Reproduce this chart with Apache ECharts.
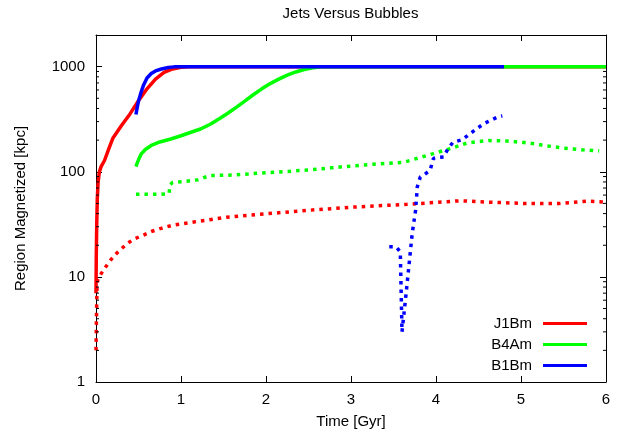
<!DOCTYPE html>
<html>
<head>
<meta charset="utf-8">
<script src="https://cdn.jsdelivr.net/npm/echarts@6/dist/echarts.min.js"></script>
<style>
html,body{margin:0;padding:0;background:#fff;}
#chart{width:623px;height:437px;}
</style>
</head>
<body>
<div id="chart"></div>
<script>
// ---- Data ----
const xTicks = [0, 1, 2, 3, 4, 5, 6];
const yTicks = [1, 10, 100, 1000];

const j1SolidTime = [0, 0.003, 0.008, 0.015, 0.025, 0.04, 0.06, 0.1, 0.15, 0.2, 0.3, 0.4, 0.5, 0.6, 0.7, 0.8, 0.9, 1.0, 1.1, 1.2, 1.5, 2, 3, 4, 5, 6];
const j1SolidRegion = [7, 15, 30, 55, 80, 100, 112, 128, 165, 210, 275, 355, 475, 615, 760, 880, 950, 985, 995, 1000, 1000, 1000, 1000, 1000, 1000, 1000];

const b4SolidTime = [0.47, 0.48, 0.5, 0.53, 0.58, 0.65, 0.75, 0.88, 1.0, 1.1, 1.23, 1.35, 1.45, 1.55, 1.65, 1.75, 1.85, 1.95, 2.05, 2.15, 2.25, 2.35, 2.45, 2.55, 2.65, 2.8, 3, 4, 5, 6];
const b4SolidRegion = [112, 118, 130, 147, 163, 178, 192, 205, 220, 235, 255, 285, 320, 360, 410, 470, 540, 615, 690, 760, 830, 890, 940, 975, 995, 1000, 1000, 1000, 1000, 1000];

const b1SolidTime = [0.47, 0.48, 0.5, 0.53, 0.56, 0.6, 0.65, 0.7, 0.77, 0.85, 0.92, 1.0, 1.5, 2, 3, 4, 4.8];
const b1SolidRegion = [350, 390, 470, 570, 670, 780, 860, 910, 950, 980, 995, 1000, 1000, 1000, 1000, 1000, 1000];

const j1DotTime = [0, 0.004, 0.008, 0.012, 0.02, 0.05, 0.1, 0.17, 0.25, 0.365, 0.45, 0.56, 0.65, 0.756, 0.9, 1.15, 1.54, 1.93, 2.5, 3.0, 3.66, 4.29, 4.6, 5.03, 5.46, 5.78, 6.0];
const j1DotRegion = [2, 3.5, 5.5, 8, 9.3, 10.4, 12, 14.4, 17, 20.7, 23, 25, 27, 28.8, 31, 33.3, 37, 39.4, 43, 46, 49, 53, 51.5, 50, 50, 52.5, 51.5];

const b4DotTime = [0.47, 0.6, 0.75, 0.86, 0.87, 0.9, 1.05, 1.2, 1.34, 1.62, 1.93, 2.2, 2.5, 2.87, 3.27, 3.62, 3.97, 4.17, 4.36, 4.48, 4.62, 4.84, 5.0, 5.15, 5.27, 5.5, 5.72, 5.92];
const b4DotRegion = [61, 61, 61, 62, 75, 79, 81, 84, 92, 93, 97, 100, 104, 111, 118, 123, 149, 166, 187, 193, 198, 196, 191, 185, 178, 168, 162, 158];

const b1DotTime = [3.45, 3.53, 3.58, 3.6, 3.64, 3.68, 3.72, 3.76, 3.78, 3.815, 3.87, 3.93, 3.97, 4.03, 4.09, 4.14, 4.2, 4.31, 4.4, 4.48, 4.56, 4.64, 4.72, 4.78];
const b1DotRegion = [19.3, 19.3, 17.3, 3.0, 6, 12.4, 25.8, 43, 72, 89, 95, 103, 134, 137, 138, 165, 191, 202, 230, 257, 285, 308, 330, 340];

const minorTickValues = [2,3,4,5,6,7,8,9,20,30,40,50,60,70,80,90,200,300,400,500,600,700,800,900];

const seriesNames = ['J1Bm', 'B4Am', 'B1Bm'];
const colors = ['#ff0000', '#00ff00', '#0000ff'];

// ---- Build ----
const zip = (t, v) => t.map((x, i) => [x, v[i]]);
const FONT = '"Liberation Sans", Arial, Helvetica, sans-serif';

const solid = (name, color, t, v) => ({
  name, type: 'line', data: zip(t, v), showSymbol: false, symbol: 'none',
  lineStyle: { color, width: 3.5 }, itemStyle: { color }, animation: false, z: 3
});
const dotted = (name, color, t, v) => ({
  name: name + ' (dotted)', type: 'line', data: zip(t, v), showSymbol: false, symbol: 'none',
  lineStyle: { color, width: 3.5, type: [3.5, 5], cap: 'butt' }, itemStyle: { color }, animation: false, z: 3
});

const chart = echarts.init(document.getElementById('chart'));
const axisLine = { show: true, onZero: false, lineStyle: { color: '#000', width: 1 } };
const tick = { show: true, inside: true, length: 6, lineStyle: { color: '#000', width: 1 } };
const labelStyle = { color: '#000', fontSize: 15, fontFamily: FONT };

chart.setOption({
  animation: false,
  backgroundColor: '#fff',
  graphic: [{
    type: 'text', x: 350.5, y: 6,
    style: { text: 'Jets Versus Bubbles', align: 'center', verticalAlign: 'top', fill: '#000', font: '15px ' + FONT }
  }],
  grid: { left: 96, right: 17, top: 35, bottom: 55, containLabel: false },
  legend: {
    data: seriesNames, orient: 'vertical', right: 36, top: 316, align: 'right',
    itemWidth: 44, itemHeight: 3, itemGap: 6, icon: 'rect', padding: 0,
    textStyle: { color: '#000', fontSize: 15, fontFamily: FONT, padding: [0, 6, 0, 0], lineHeight: 15 }
  },
  xAxis: [{
    type: 'value', min: xTicks[0], max: xTicks[xTicks.length - 1], interval: 1,
    position: 'bottom', axisLine, axisTick: tick, splitLine: { show: false },
    axisLabel: Object.assign({ margin: 10, formatter: v => String(v) }, labelStyle),
    name: 'Time [Gyr]', nameLocation: 'middle', nameGap: 32, nameTextStyle: labelStyle
  }, {
    type: 'value', min: xTicks[0], max: xTicks[xTicks.length - 1], interval: 1,
    position: 'top', axisLine, axisTick: tick, splitLine: { show: false }, axisLabel: { show: false }
  }],
  yAxis: [{
    type: 'log', logBase: 10, min: yTicks[0], max: 2000,
    position: 'left', axisLine, axisTick: tick, splitLine: { show: false },
    axisLabel: Object.assign({ margin: 11, showMaxLabel: false, formatter: v => String(Math.round(v)) }, labelStyle),
    name: 'Region Magnetized [kpc]', nameLocation: 'middle', nameGap: 68, nameTextStyle: labelStyle
  }, {
    type: 'log', logBase: 10, min: yTicks[0], max: 2000,
    position: 'right', axisLine, axisTick: tick, splitLine: { show: false }, axisLabel: { show: false }
  }],
  series: [
    solid(seriesNames[0], colors[0], j1SolidTime, j1SolidRegion),
    dotted(seriesNames[0], colors[0], j1DotTime, j1DotRegion),
    solid(seriesNames[1], colors[1], b4SolidTime, b4SolidRegion),
    dotted(seriesNames[1], colors[1], b4DotTime, b4DotRegion),
    solid(seriesNames[2], colors[2], b1SolidTime, b1SolidRegion),
    dotted(seriesNames[2], colors[2], b1DotTime, b1DotRegion),
    {
      name: 'minor ticks', type: 'custom', silent: true, z: 5, animation: false,
      data: minorTickValues.map(v => [xTicks[0], v]),
      renderItem: (params, api) => {
        const v = api.value(1);
        const p0 = api.coord([xTicks[0], v]);
        const p1 = api.coord([xTicks[xTicks.length - 1], v]);
        const st = { stroke: '#000', lineWidth: 1 };
        return {
          type: 'group', children: [
            { type: 'line', shape: { x1: p0[0], y1: p0[1], x2: p0[0] + 3, y2: p0[1] }, style: st },
            { type: 'line', shape: { x1: p1[0] - 3, y1: p1[1], x2: p1[0], y2: p1[1] }, style: st }
          ]
        };
      }
    }
  ]
});
</script>
</body>
</html>
